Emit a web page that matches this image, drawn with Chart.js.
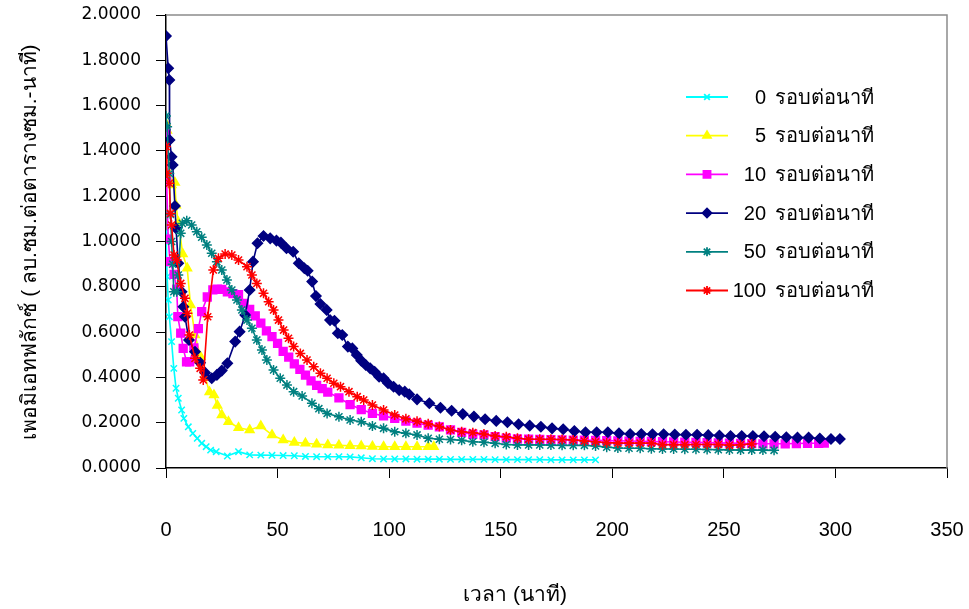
<!DOCTYPE html>
<html>
<head>
<meta charset="utf-8">
<script src="https://cdn.jsdelivr.net/npm/chart.js@4.4.0/dist/chart.umd.min.js"></script>
<style>
  html, body { margin: 0; padding: 0; background: #fff; }
  #wrap { width: 969px; height: 609px; }
</style>
</head>
<body>
<div id="wrap"><canvas id="fluxChart" width="969" height="609"></canvas></div>
<script>
// series labels (stirring speed)
const seriesLabels = ["0 รอบต่อนาที", "5 รอบต่อนาที", "10 รอบต่อนาที", "20 รอบต่อนาที", "50 รอบต่อนาที", "100 รอบต่อนาที"];

// 0 rpm
const time0 = [0, 0.5, 1, 1.5, 2.5, 3.5, 4.5, 5.5, 7, 8, 10, 12, 14, 16, 18, 20,
  22.5, 27.5, 32.5, 37.5, 42.5, 47.5, 52.5, 57.5, 62.5, 67.5, 72.5, 77.5, 82.5, 87.5, 92.5, 97.5,
  102.5, 107.5, 112.5, 117.5, 122.5, 127.5, 132.5, 137.5, 142.5, 147.5, 152.5, 157.5, 162.5, 167.5,
  172.5, 177.5, 182.5, 187.5, 192.5];
const flux0 = [1.043, 0.845, 0.742, 0.668, 0.558, 0.44, 0.352, 0.308, 0.256, 0.219, 0.182, 0.153, 0.131, 0.109, 0.094, 0.079,
  0.072, 0.053, 0.072, 0.058, 0.057, 0.056, 0.055, 0.054, 0.051, 0.050, 0.050, 0.050, 0.049, 0.045, 0.041, 0.040,
  0.040, 0.040, 0.039, 0.039, 0.039, 0.038, 0.038, 0.038, 0.038, 0.037, 0.037, 0.037, 0.037, 0.037,
  0.036, 0.036, 0.036, 0.036, 0.036];

// 5 rpm
const time5 = [0, 0.5, 1, 2.5, 4, 4.5, 5.5, 7.5, 9.5, 11, 13, 15.5, 17.5, 19.5, 21.5, 23, 25, 28,
  32.5, 37.5, 42.5, 47.5, 52.5, 57.5, 62.5, 67.5, 72.5, 77.5, 82.5, 87.5, 92.5, 97.5, 102.5, 107.5, 112.5, 117.5, 120];
const flux5 = [1.52, 1.49, 1.36, 1.25, 1.26, 1.16, 1.085, 0.945, 0.882, 0.72, 0.587, 0.491, 0.403, 0.335, 0.322, 0.276, 0.234, 0.204,
  0.178, 0.168, 0.185, 0.146, 0.124, 0.113, 0.109, 0.105, 0.102, 0.100, 0.098, 0.097, 0.095, 0.094, 0.094, 0.094, 0.094, 0.094, 0.094];

// 10 rpm
const time10 = [0, 0.3, 1, 1.8, 3.6, 4.8, 5.3, 6.6, 7.7, 9.2, 10.6,
  12.5, 14.5, 16, 18.5, 21, 23, 25,
  27.5, 30, 32.5, 35, 37.5, 40, 42.5, 45, 47.5, 50, 52.5, 55, 57.5, 60, 62.5, 65, 67.5, 70, 72.5,
  77.5, 82.5, 87.5, 92.5, 97.5, 102.5, 107.5, 112.5, 117.5, 122.5, 127.5, 132.5, 137.5, 142.5, 147.5,
  152.5, 157.5, 162.5, 167.5, 172.5, 177.5, 182.5, 187.5, 192.5, 197.5, 202.5, 207.5, 212.5, 217.5,
  222.5, 227.5, 232.5, 237.5, 242.5, 247.5, 252.5, 257.5, 262.5, 267.5, 272.5, 277.5, 282.5, 287.5, 292.5, 295];
const flux10 = [1.478, 1.264, 1.01, 0.911, 0.855, 0.79, 0.668, 0.595, 0.528, 0.469, 0.469,
  0.53, 0.615, 0.69, 0.755, 0.786, 0.79, 0.789,
  0.778, 0.77, 0.765, 0.727, 0.70, 0.672, 0.64, 0.605, 0.58, 0.55, 0.515, 0.49, 0.46, 0.435, 0.41, 0.385, 0.365, 0.35, 0.335,
  0.31, 0.28, 0.258, 0.241, 0.23, 0.219, 0.207, 0.198, 0.189, 0.182, 0.168, 0.157, 0.149, 0.146, 0.139,
  0.132, 0.128, 0.127, 0.126, 0.125, 0.124, 0.123, 0.123, 0.122, 0.121, 0.12, 0.119, 0.118, 0.117,
  0.116, 0.115, 0.114, 0.113, 0.112, 0.111, 0.11, 0.109, 0.108, 0.107, 0.107, 0.107, 0.108, 0.109, 0.109, 0.11];

// 20 rpm
const time20 = [0, 1, 1.5, 1.6, 2.5, 3, 4, 4.5, 5.5, 7,
  7.8, 8.5, 10.3, 13, 15.3, 17.5, 20.5, 22.8, 25, 27.5,
  31, 33, 35.5, 37.5, 39, 41, 43.7, 46.7, 49.5, 51.5,
  54, 57, 59.5, 62, 63.5, 65.5, 67.2, 69.2, 72, 73.5,
  75.5, 77, 79, 81.5, 83.5, 85.5, 87.5, 89.5, 91.5, 93.5,
  95.5, 97.5, 99.5, 102, 104.5, 107, 109, 112.5, 118, 123,
  128, 133, 138, 143, 148, 153, 158, 163, 168, 173,
  178, 183, 188, 193, 198, 203, 208, 213, 218, 223,
  228, 233, 238, 243, 248, 253, 258, 263, 268, 273,
  278, 283, 288, 293, 298, 302];
const flux20 = [1.907, 1.765, 1.713, 1.448, 1.374, 1.338, 1.157, 1.058, 0.904, 0.778,
  0.712, 0.668, 0.565, 0.513, 0.465, 0.421, 0.396, 0.411, 0.43, 0.462,
  0.558, 0.602, 0.675, 0.786, 0.911, 0.992, 1.024, 1.014, 1.004, 0.995,
  0.97, 0.955, 0.904, 0.882, 0.871, 0.823, 0.759, 0.724, 0.698, 0.653,
  0.65, 0.595, 0.587, 0.536, 0.528, 0.499, 0.474, 0.455, 0.44, 0.425,
  0.403, 0.396, 0.374, 0.359, 0.344, 0.337, 0.325, 0.303, 0.286, 0.266,
  0.253, 0.238, 0.227, 0.215, 0.208, 0.202, 0.193, 0.187, 0.182, 0.175,
  0.171, 0.163, 0.158, 0.158, 0.158, 0.153, 0.15, 0.15, 0.149, 0.149,
  0.148, 0.147, 0.147, 0.145, 0.143, 0.141, 0.141, 0.141, 0.14, 0.138,
  0.136, 0.134, 0.134, 0.13, 0.128, 0.128];

// 50 rpm
const time50 = [0, 0.5, 1.5, 2, 2.5, 3, 3.5, 4.8, 5.5, 6.6,
  7.3, 9.3, 11.5, 13.8, 16, 18.3, 20.5, 22.8, 25, 27.3,
  29.5, 31.8, 34, 36.3, 38.5, 40.7, 43, 45.2, 48.2, 51.2,
  54.2, 57.2, 61, 65.4, 68.5, 72.2,
  77.5, 82.5, 87.5, 92.5, 97.5, 102.5, 107.5, 112.5, 117.5, 122.5,
  127.5, 132.5, 137.5, 142.5, 147.5, 152.5, 157.5, 162.5, 167.5, 172.5,
  177.5, 182.5, 187.5, 192.5, 197.5, 202.5, 207.5, 212.5, 217.5, 222.5,
  227.5, 232.5, 237.5, 242.5, 247.5, 252.5, 257.5, 262.5, 267.5, 272.5];
const flux50 = [1.554, 1.507, 1.30, 1.12, 1.0, 0.9, 0.778, 0.778, 0.852, 1.036,
  1.08, 1.092, 1.073, 1.043, 1.019, 0.985, 0.948, 0.911, 0.874, 0.83,
  0.786, 0.742, 0.698, 0.653, 0.617, 0.565, 0.521, 0.477, 0.433, 0.396,
  0.366, 0.337, 0.318, 0.286, 0.262, 0.241,
  0.226, 0.212, 0.204, 0.185, 0.175, 0.16, 0.153, 0.146, 0.131, 0.127,
  0.126, 0.122, 0.116, 0.114, 0.109, 0.104, 0.102, 0.102, 0.102, 0.101,
  0.1, 0.1, 0.1, 0.097, 0.092, 0.088, 0.087, 0.087, 0.085, 0.084,
  0.084, 0.083, 0.083, 0.082, 0.081, 0.08, 0.079, 0.079, 0.079, 0.078];

// 100 rpm
const time100 = [0, 0.3, 1.5, 2, 2.5, 3.6, 4.8, 6.6, 8.5, 9.6,
  10.5, 13, 15.3, 16.7, 18.7, 21.2, 23.5, 26.5, 29.5, 32.5,
  36.3, 38.5, 40.7, 43.7, 46, 48.2, 50.4, 52.7, 54.9, 57.2,
  60.2, 63.2, 66.2, 69.2, 72.2, 75.2, 78.2, 82, 85.7, 88.6,
  92.5, 97.5, 102.5, 107.5, 112.5, 117.5, 122.5, 127.5, 132.5, 137.5,
  142.5, 147.5, 152.5, 157.5, 162.5, 167.5, 172.5, 177.5, 182.5, 187.5,
  192.5, 197.5, 202.5, 207.5, 212.5, 217.5, 222.5, 227.5, 232.5, 237.5,
  242.5, 247.5, 252.5, 257.5, 262.5];
const flux100 = [1.419, 1.301, 1.257, 1.124, 1.073, 0.94, 0.918, 0.815, 0.749, 0.683,
  0.587, 0.484, 0.44, 0.389, 0.668, 0.874, 0.926, 0.945, 0.94, 0.918,
  0.889, 0.852, 0.815, 0.771, 0.734, 0.698, 0.653, 0.609, 0.573, 0.536,
  0.506, 0.477, 0.447, 0.418, 0.396, 0.374, 0.359, 0.337, 0.315, 0.30,
  0.278, 0.256, 0.234, 0.217, 0.206, 0.195, 0.183, 0.168, 0.16, 0.156,
  0.15, 0.141, 0.138, 0.131, 0.127, 0.127, 0.127, 0.126, 0.124, 0.119,
  0.116, 0.112, 0.11, 0.11, 0.11, 0.11, 0.103, 0.103, 0.103, 0.104,
  0.104, 0.104, 0.1, 0.103, 0.106];

// axis ticks
const xTicks = [0, 50, 100, 150, 200, 250, 300, 350];
const yTicks = [0, 0.2, 0.4, 0.6, 0.8, 1.0, 1.2, 1.4, 1.6, 1.8, 2.0];

const xTitle = "เวลา (นาที)";
const yTitle = "เพอมิเอทฟลักซ์ ( ลบ.ซม.ต่อตารางซม.-นาที)";

const FONT = "'Liberation Sans', 'DejaVu Sans', sans-serif";

function toPoints(times, values) {
    return times.map((t, i) => ({ x: t, y: values[i] }));
}

const styles = [
    { color: "#00FFFF", pointStyle: "crossRot", radius: 4.5 },
    { color: "#FFFF00", pointStyle: "triangle", radius: 5 },
    { color: "#FF00FF", pointStyle: "rect", radius: 5.5 },
    { color: "#000080", pointStyle: "rectRot", radius: 5 },
    { color: "#008080", pointStyle: "star", radius: 5 },
    { color: "#FF0000", pointStyle: "star", radius: 5 }
];

const allTimes = [time0, time5, time10, time20, time50, time100];
const allFlux = [flux0, flux5, flux10, flux20, flux50, flux100];

const datasets = seriesLabels.map((label, i) => ({
    label: label,
    data: toPoints(allTimes[i], allFlux[i]),
    showLine: true,
    borderColor: styles[i].color,
    backgroundColor: styles[i].color,
    pointBackgroundColor: styles[i].color,
    pointBorderColor: styles[i].color,
    pointStyle: styles[i].pointStyle,
    pointRadius: styles[i].radius,
    pointBorderWidth: 1.5,
    borderWidth: 1.6,
    tension: 0,
    fill: false,
    order: seriesLabels.length - i // later series drawn on top, like the original
}));

// gray frame on top and right of plot area
const framePlugin = {
    id: "frame",
    beforeDatasetsDraw(chart) {
        const { ctx, chartArea: a } = chart;
        ctx.save();
        ctx.strokeStyle = "#8c8c8c";
        ctx.lineWidth = 1.5;
        ctx.beginPath();
        ctx.moveTo(a.left, a.top);
        ctx.lineTo(a.right, a.top);
        ctx.lineTo(a.right, a.bottom);
        ctx.stroke();
        ctx.restore();
    }
};

// legend inside the plot, right side
const legendPlugin = {
    id: "sideLegend",
    afterDatasetsDraw(chart) {
        const ctx = chart.ctx;
        ctx.save();
        chart.data.datasets.forEach((ds, i) => {
            const y = 97 + i * 38.7;
            ctx.strokeStyle = ds.borderColor;
            ctx.fillStyle = ds.borderColor;
            ctx.lineWidth = 1.8;
            ctx.beginPath();
            ctx.moveTo(686, y);
            ctx.lineTo(728, y);
            ctx.stroke();
            Chart.helpers.drawPoint(ctx, { pointStyle: ds.pointStyle, radius: ds.pointRadius - 0.5, borderWidth: 1.5, rotation: 0 }, 707, y);
            // number right-aligned, words left-aligned, as in the original legend
            const cut = ds.label.indexOf(" ");
            ctx.fillStyle = "#000";
            ctx.font = "20px " + FONT;
            ctx.textBaseline = "middle";
            ctx.textAlign = "right";
            ctx.fillText(ds.label.slice(0, cut), 766, y + 1);
            ctx.textAlign = "left";
            ctx.fillText(ds.label.slice(cut + 1), 775, y + 1);
        });
        ctx.restore();
    }
};

// axis titles
const titlePlugin = {
    id: "axisTitles",
    afterDraw(chart) {
        const ctx = chart.ctx;
        ctx.save();
        ctx.fillStyle = "#000";
        ctx.font = "21px " + FONT;
        ctx.textAlign = "center";
        ctx.textBaseline = "middle";
        ctx.fillText(xTitle, 515, 595);
        ctx.translate(30, 242);
        ctx.rotate(-Math.PI / 2);
        ctx.fillText(yTitle, 0, 0);
        ctx.restore();
    }
};

const ctx = document.getElementById("fluxChart").getContext("2d");
new Chart(ctx, {
    type: "scatter",
    data: { datasets: datasets },
    options: {
        responsive: false,
        animation: false,
        layout: { padding: { left: 0, right: 22, top: 15, bottom: 0 } },
        plugins: {
            legend: { display: false },
            tooltip: { enabled: false }
        },
        scales: {
            x: {
                type: "linear",
                min: xTicks[0],
                max: xTicks[xTicks.length - 1],
                afterBuildTicks: (scale) => { scale.ticks = xTicks.map(v => ({ value: v })); },
                afterFit: (scale) => { scale.height = 141; scale.paddingLeft = 0; scale.paddingRight = 0; },
                ticks: {
                    color: "#000",
                    padding: 40,
                    maxRotation: 0,
                    font: { family: "'Liberation Sans Narrow', " + FONT, size: 20 }
                },
                grid: { drawOnChartArea: false, drawTicks: true, tickLength: 10, color: "#000", lineWidth: 1 },
                border: { color: "#000", width: 1.5 }
            },
            y: {
                type: "linear",
                min: yTicks[0],
                max: yTicks[yTicks.length - 1],
                afterBuildTicks: (scale) => { scale.ticks = yTicks.map(v => ({ value: v })); },
                afterFit: (scale) => { scale.width = 166; scale.paddingTop = 0; scale.paddingBottom = 0; },
                ticks: {
                    color: "#000",
                    padding: 15,
                    callback: (v) => Number(v).toFixed(4),
                    font: { family: "'DejaVu Sans', sans-serif", size: 17 }
                },
                grid: { drawOnChartArea: false, drawTicks: true, tickLength: 10, color: "#000", lineWidth: 1 },
                border: { color: "#000", width: 1.5 }
            }
        }
    },
    plugins: [framePlugin, legendPlugin, titlePlugin]
});
</script>
</body>
</html>
